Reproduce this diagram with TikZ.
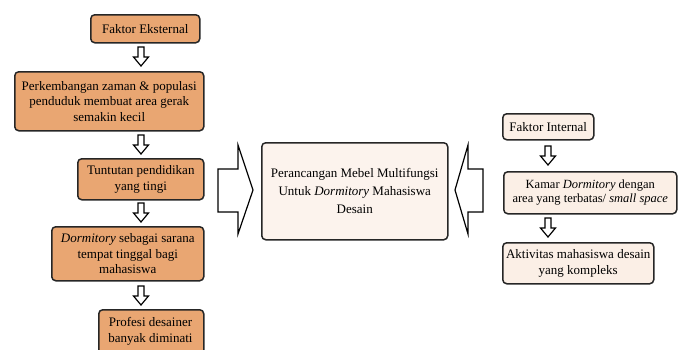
\documentclass[tikz,border=0pt]{standalone}
\usepackage{fontspec}
\setmainfont{Liberation Serif}
\definecolor{boxorange}{RGB}{233,166,114}
\definecolor{boxlight}{RGB}{251,239,230}
\definecolor{boxcenter}{RGB}{252,243,237}
\begin{document}
\begin{tikzpicture}[x=1pt,y=-1pt,
  base/.style={draw=black!85, line width=1.5pt, rounded corners=4pt, align=center,
    font=\fontsize{13}{15.5}\selectfont, inner sep=0pt, anchor=north west},
  obox/.style={base, fill=boxorange},
  lbox/.style={base, fill=boxlight},
  blk/.style={draw=black, line width=1.2pt, fill=white, line join=miter},
  pics/downarr/.style={code={\draw[blk] (-3,0) -- (3,0) -- (3,10) -- (7.5,10) -- (0,19) -- (-7.5,10) -- (-3,10) -- cycle;}}
]
\useasboundingbox (0,0) rectangle (686,349);
% left column
\node[obox, minimum width=109pt, minimum height=28pt] (fe) at (90,14) {Faktor Eksternal};
\node[obox, minimum width=189pt, minimum height=59pt] (pz) at (14,71) {Perkembangan zaman \& populasi\\penduduk membuat area gerak\\semakin kecil};
\node[obox, minimum width=126pt, minimum height=41pt] (tp) at (77,158) {Tuntutan pendidikan\\yang tingi};
\node[obox, minimum width=152pt, minimum height=54pt] (dm) at (51,226) {\textit{Dormitory} sebagai sarana\\tempat tinggal bagi\\mahasiswa};
\node[obox, minimum width=105pt, minimum height=56pt] (pd) at (98,309) {};
\node[font=\fontsize{13}{15.5}\selectfont, align=center, anchor=north] (pdt) at (150.5,314) {Profesi desainer\\banyak diminati};
% center
\node[lbox, fill=boxcenter, font=\fontsize{13}{18}\selectfont, minimum width=186pt, minimum height=97pt] (ct) at (261,142) {Perancangan Mebel Multifungsi\\Untuk \textit{Dormitory} Mahasiswa\\Desain};
% right column
\node[lbox, minimum width=91pt, minimum height=26pt] (fi) at (502,113) {Faktor Internal};
\node[lbox, font=\fontsize{12.5}{14}\selectfont, minimum width=173pt, minimum height=42pt] (km) at (503,171) {Kamar \textit{Dormitory} dengan\\area yang terbatas/ \textit{small space}};
\node[lbox, minimum width=151pt, minimum height=41pt] (ak) at (502,242) {Aktivitas mahasiswa desain\\yang kompleks};
% small arrows
\pic at (141,47) {downarr};
\pic at (141,135) {downarr};
\pic at (141,203) {downarr};
\pic at (141,286) {downarr};
\pic at (548,146) {downarr};
\pic at (548,218) {downarr};
% big arrows
\draw[blk] (218,169) -- (238,169) -- (238,145) -- (253,190) -- (238,234) -- (238,212) -- (218,212) -- cycle;
\draw[blk] (483,169) -- (468,169) -- (468,145) -- (455,190) -- (468,234) -- (468,212) -- (483,212) -- cycle;
\end{tikzpicture}
\end{document}
